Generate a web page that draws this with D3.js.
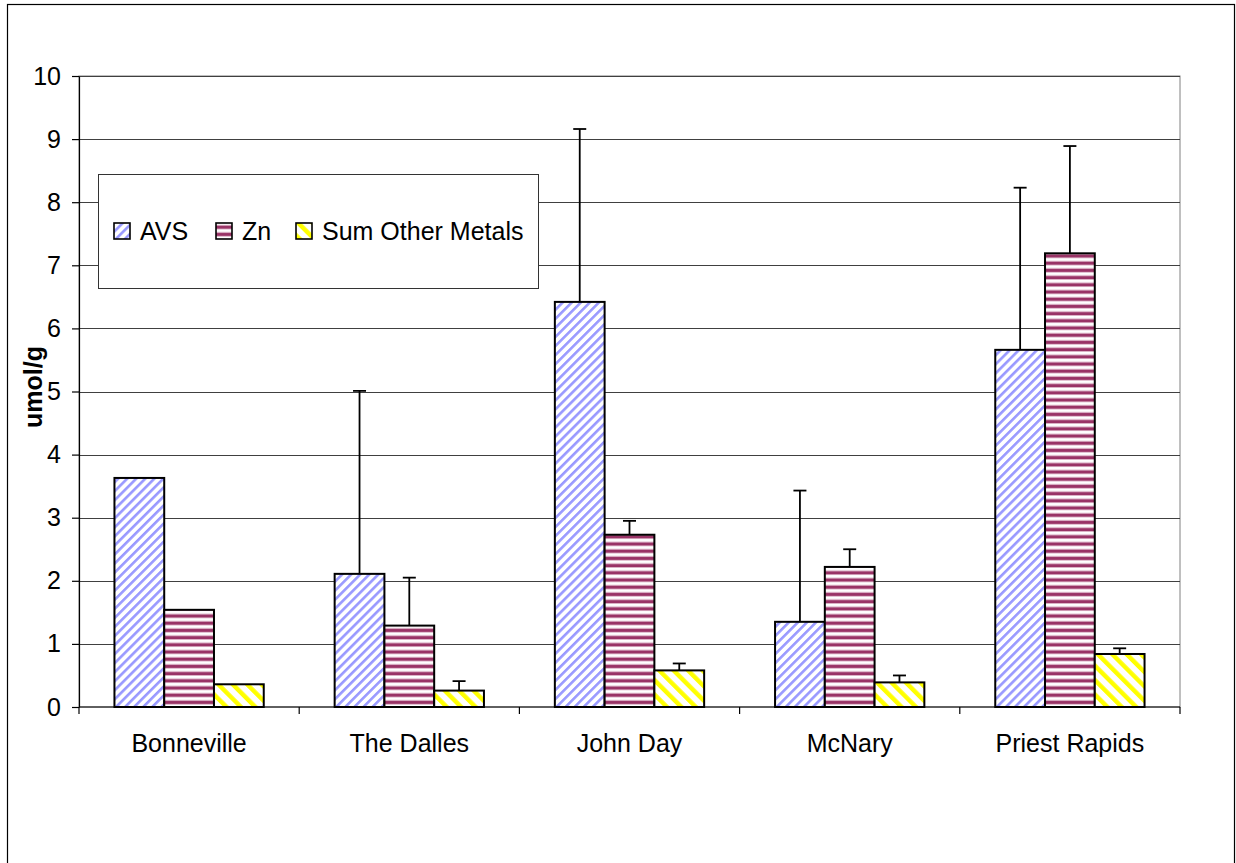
<!DOCTYPE html>
<html>
<head>
<meta charset="utf-8">
<script src="https://cdn.jsdelivr.net/npm/d3@7"></script>
<style>
  body { margin: 0; background: #fff; }
  text { font-family: Arial, "Liberation Sans", sans-serif; fill: #000; }
</style>
</head>
<body>
<div id="chart"></div>
<script>
// Sites along the river (x categories)
var categories = ['Bonneville', 'The Dalles', 'John Day', 'McNary', 'Priest Rapids'];
var seriesNames = ['AVS', 'Zn', 'Sum Other Metals'];

// Means (umol/g) and the upper error amount; null = no error bar
var avsValues = [3.63, 2.11, 6.42, 1.35, 5.66];
var avsErrors = [null, 2.90, 2.74, 2.08, 2.57];
var znValues = [1.54, 1.29, 2.73, 2.22, 7.19];
var znErrors = [null, 0.76, 0.22, 0.28, 1.70];
var otherValues = [0.36, 0.26, 0.58, 0.39, 0.84];
var otherErrors = [null, 0.15, 0.11, 0.11, 0.09];

var yTicks = [0, 1, 2, 3, 4, 5, 6, 7, 8, 9, 10];

var width = 1236, height = 863;
var plot = { left: 79, right: 1180, top: 76, bottom: 707 };
var fontSize = '25px';

var svg = d3.select('#chart').append('svg')
            .attr('width', width)
            .attr('height', height);

svg.append('rect').attr('width', width).attr('height', height).style('fill', '#fff');

// Outer chart frame (bottom edge runs off the page)
svg.append('rect')
   .attr('x', 7.5).attr('y', 4.5)
   .attr('width', 1227).attr('height', 900)
   .style('fill', 'none').style('stroke', '#000').style('stroke-width', 1.2);

// Fill patterns, one per series
var defs = svg.append('defs');

var pAvs = defs.append('pattern').attr('id', 'pat-avs')
               .attr('patternUnits', 'userSpaceOnUse')
               .attr('width', 6.4).attr('height', 6.4)
               .attr('patternTransform', 'rotate(45)');
pAvs.append('rect').attr('width', 6.4).attr('height', 6.4).style('fill', '#fff');
pAvs.append('rect').attr('width', 2.6).attr('height', 6.4).style('fill', '#9999ff');

var pZn = defs.append('pattern').attr('id', 'pat-zn')
              .attr('patternUnits', 'userSpaceOnUse')
              .attr('width', 8).attr('height', 7.2);
pZn.append('rect').attr('width', 8).attr('height', 7.2).style('fill', '#fff');
pZn.append('rect').attr('y', 1.6).attr('width', 8).attr('height', 1).style('fill', '#d4a3bb');
pZn.append('rect').attr('y', 2.6).attr('width', 8).attr('height', 2.8).style('fill', '#993366');
pZn.append('rect').attr('y', 5.4).attr('width', 8).attr('height', 0.8).style('fill', '#d4a3bb');

var pOther = defs.append('pattern').attr('id', 'pat-other')
                 .attr('patternUnits', 'userSpaceOnUse')
                 .attr('width', 10.2).attr('height', 10.2)
                 .attr('patternTransform', 'rotate(-45)');
pOther.append('rect').attr('width', 10.2).attr('height', 10.2).style('fill', '#fff');
pOther.append('rect').attr('width', 4.4).attr('height', 10.2).style('fill', '#ffff00');

var fills = ['url(#pat-avs)', 'url(#pat-zn)', 'url(#pat-other)'];

// Scales
var x0 = d3.scaleBand().domain(categories).range([plot.left, plot.right]).padding(0);
var barSpan = x0.bandwidth() * 0.678;
var x1 = d3.scaleBand().domain(seriesNames)
           .range([(x0.bandwidth() - barSpan) / 2, (x0.bandwidth() + barSpan) / 2]);
var y = d3.scaleLinear().domain([0, 10]).range([plot.bottom, plot.top]);

// Plot area border (gray, Excel style)
svg.append('rect')
   .attr('x', plot.left).attr('y', plot.top)
   .attr('width', plot.right - plot.left).attr('height', plot.bottom - plot.top)
   .style('fill', 'none').style('stroke', '#808080').style('stroke-width', 1);

// Horizontal gridlines
svg.append('g').selectAll('line')
   .data(yTicks.slice(1))
   .enter().append('line')
   .attr('x1', plot.left).attr('x2', plot.right)
   .attr('y1', function(d) { return Math.round(y(d)) + 0.5; })
   .attr('y2', function(d) { return Math.round(y(d)) + 0.5; })
   .style('stroke', '#404040').style('stroke-width', 1);

// Legend box (drawn over the gridlines)
var legend = svg.append('g').attr('class', 'legend');
legend.append('rect')
      .attr('x', 98.5).attr('y', 174.5).attr('width', 440).attr('height', 114)
      .style('fill', '#fff').style('stroke', '#333').style('stroke-width', 1);
var legendX = [114, 216, 296];
seriesNames.forEach(function(name, i) {
  legend.append('rect')
        .attr('x', legendX[i]).attr('y', 223)
        .attr('width', 16).attr('height', 16)
        .style('fill', fills[i]).style('stroke', '#000').style('stroke-width', 1.6);
  legend.append('text')
        .attr('x', legendX[i] + 26).attr('y', 240)
        .style('font-size', fontSize)
        .text(name);
});

// Bars and error bars
var table = categories.map(function(c, i) {
  return [
    { cat: c, s: 'AVS', v: avsValues[i], e: avsErrors[i] },
    { cat: c, s: 'Zn', v: znValues[i], e: znErrors[i] },
    { cat: c, s: 'Sum Other Metals', v: otherValues[i], e: otherErrors[i] }
  ];
});

var groups = svg.append('g').selectAll('g')
                .data(table)
                .enter().append('g')
                .attr('transform', function(d, i) { return 'translate(' + x0(categories[i]) + ',0)'; });

groups.selectAll('rect')
      .data(function(d) { return d; })
      .enter().append('rect')
      .attr('x', function(d) { return x1(d.s); })
      .attr('y', function(d) { return y(d.v); })
      .attr('width', x1.bandwidth())
      .attr('height', function(d) { return y(0) - y(d.v); })
      .style('fill', function(d, i) { return fills[i]; })
      .style('stroke', '#000').style('stroke-width', 2);

var withErr = function(d) { return d.filter(function(r) { return r.e !== null; }); };
var capHalf = 6.5;

groups.selectAll('line.err')
      .data(withErr)
      .enter().append('line').attr('class', 'err')
      .attr('x1', function(d) { return x1(d.s) + x1.bandwidth() / 2; })
      .attr('x2', function(d) { return x1(d.s) + x1.bandwidth() / 2; })
      .attr('y1', function(d) { return y(d.v); })
      .attr('y2', function(d) { return y(d.v + d.e); })
      .style('stroke', '#000').style('stroke-width', 1.8);

groups.selectAll('line.cap')
      .data(withErr)
      .enter().append('line').attr('class', 'cap')
      .attr('x1', function(d) { return x1(d.s) + x1.bandwidth() / 2 - capHalf; })
      .attr('x2', function(d) { return x1(d.s) + x1.bandwidth() / 2 + capHalf; })
      .attr('y1', function(d) { return y(d.v + d.e); })
      .attr('y2', function(d) { return y(d.v + d.e); })
      .style('stroke', '#000').style('stroke-width', 1.8);

// Y axis
var yAxis = d3.axisLeft(y).tickValues(yTicks).tickSizeInner(7).tickSizeOuter(0).tickPadding(11);
var yg = svg.append('g').attr('transform', 'translate(' + plot.left + ',0)').call(yAxis);
yg.selectAll('text').style('font-size', fontSize).style('font-family', 'Arial, "Liberation Sans", sans-serif');
yg.selectAll('line, path').style('stroke', '#000').style('stroke-width', 1.2);

// X axis: ticks sit on category boundaries
var xg = svg.append('g').attr('transform', 'translate(0,' + plot.bottom + ')');
xg.append('line').attr('x1', plot.left).attr('x2', plot.right)
  .style('stroke', '#000').style('stroke-width', 1.2);
xg.selectAll('line.tick')
  .data(categories.concat(['end']))
  .enter().append('line').attr('class', 'tick')
  .attr('x1', function(d, i) { return plot.left + i * x0.bandwidth(); })
  .attr('x2', function(d, i) { return plot.left + i * x0.bandwidth(); })
  .attr('y1', 0).attr('y2', 7)
  .style('stroke', '#000').style('stroke-width', 1.2);
xg.selectAll('text')
  .data(categories)
  .enter().append('text')
  .attr('x', function(d) { return x0(d) + x0.bandwidth() / 2; })
  .attr('y', 45)
  .attr('text-anchor', 'middle')
  .style('font-size', fontSize)
  .text(function(d) { return d; });

// Y axis title
svg.append('text')
   .attr('transform', 'translate(42,387) rotate(-90)')
   .attr('text-anchor', 'middle')
   .style('font-size', fontSize).style('font-weight', 'bold')
   .text('umol/g');
</script>
</body>
</html>
